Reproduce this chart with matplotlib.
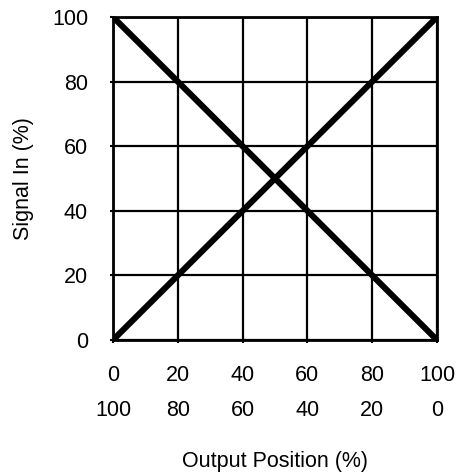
import matplotlib.pyplot as plt

# data
ticks = [0, 20, 40, 60, 80, 100]
rising = [0, 100]    # signal in for output 0 -> 100
falling = [100, 0]   # signal in for reverse output
positions = [0, 100]

plt.rcParams['font.family'] = ['Liberation Sans', 'DejaVu Sans']
fs = 15.5

fig = plt.figure(figsize=(4.66, 4.75), dpi=100)
ax = fig.add_axes([0.2425, 0.2842, 0.6953, 0.68])

ax.plot(positions, rising, color='black', lw=4.4, solid_capstyle='butt')
ax.plot(positions, falling, color='black', lw=4.4, solid_capstyle='butt')

ax.set_xlim(0, 100)
ax.set_ylim(0, 100)
ax.set_xticks(ticks)
ax.set_yticks(ticks)
ax.grid(True, color='black', lw=1.6)
for s in ax.spines.values():
    s.set_linewidth(2)
ax.tick_params(axis='both', length=2, width=1.5, labelsize=fs)
ax.tick_params(axis='x', pad=16)
ax.tick_params(axis='y', pad=16)

# second row of x labels (reverse scale)
sec = ax.secondary_xaxis('bottom', functions=(lambda x: 100 - x, lambda x: 100 - x))
sec.set_xticks(ticks)
sec.spines['bottom'].set_visible(False)
sec.tick_params(length=0, labelsize=fs, pad=43)

ax.set_ylabel('Signal In (%)', fontsize=fs, labelpad=13)
sec.set_xlabel('Output Position (%)', fontsize=fs, labelpad=22)

fig.savefig('out.png', dpi=100)
